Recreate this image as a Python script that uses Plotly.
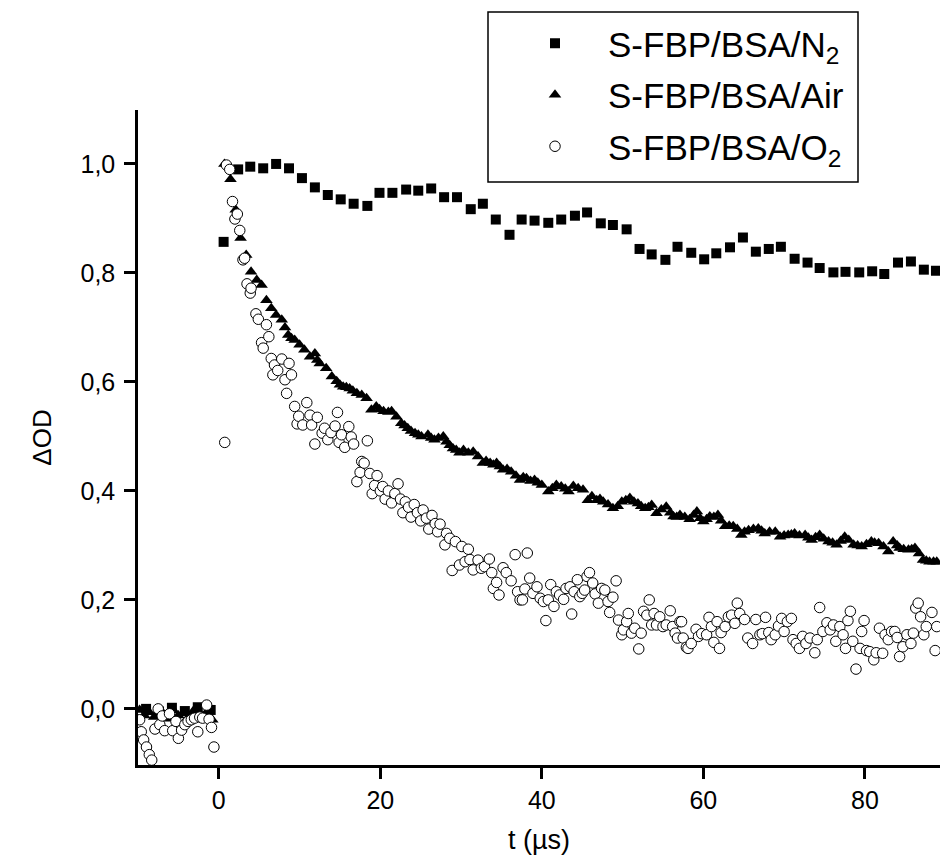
import plotly.graph_objects as go

# ---------------- data ----------------
n2_t = [-9.0, -7.4, -5.8, -4.2, -2.6, -1.0,
        0.6, 2.4, 3.9, 5.5, 7.1, 8.7, 10.3, 11.9, 13.5, 15.1,
        16.7, 18.4, 19.9, 21.5, 23.2, 24.7, 26.3, 27.9, 29.5, 31.2,
        32.7, 34.3, 36.0, 37.5, 39.1, 40.8, 42.4, 44.1, 45.6, 47.3,
        48.8, 50.5, 52.1, 53.6, 55.3, 56.8, 58.5, 60.1, 61.6, 63.3,
        64.9, 66.5, 68.1, 69.6, 71.3, 72.9, 74.4, 76.1, 77.6, 79.3,
        80.9, 82.4, 84.1, 85.7, 87.3, 88.8]
n2_y = [0.0, -0.005, 0.002, -0.004, 0.003, -0.002,
        0.857, 0.990, 0.995, 0.992, 1.0, 0.992, 0.974, 0.957, 0.943, 0.935,
        0.927, 0.923, 0.947, 0.947, 0.953, 0.951, 0.955, 0.939, 0.939, 0.917,
        0.927, 0.898, 0.870, 0.898, 0.896, 0.892, 0.898, 0.905, 0.911, 0.891,
        0.888, 0.880, 0.844, 0.834, 0.824, 0.848, 0.837, 0.825, 0.836, 0.847,
        0.865, 0.839, 0.844, 0.848, 0.826, 0.819, 0.809, 0.801, 0.802, 0.801,
        0.803, 0.798, 0.819, 0.821, 0.806, 0.804]

air_t = [-9.8, -9.2, -8.6, -8.0, -7.4, -6.8, -6.2, -5.6, -5.0, -4.4,
         -3.8, -3.2, -2.6, -2.0, -1.4, -0.8,
         0.7, 1.45, 2.1, 2.7, 3.4, 4.0, 4.7, 5.3, 5.9, 6.5,
         7.1, 7.8, 8.2, 8.6, 9.0, 9.4, 10.0, 10.6, 11.3, 11.9,
         12.2, 12.5, 13.3, 14.0, 14.6, 15.0, 15.4, 15.8, 16.2, 16.6,
         17.1, 17.7, 18.3, 18.9, 19.5, 19.9, 20.4, 21.0, 21.4, 22.0,
         22.6, 23.0, 23.4, 23.8, 24.3, 24.7, 25.1, 25.9, 26.3, 26.7,
         27.2, 27.8, 28.2, 28.6, 29.0, 29.4, 29.8, 30.3, 30.9, 31.5,
         32.1, 32.7, 33.1, 33.6, 34.0, 34.4, 34.8, 35.2, 35.7, 36.2,
         36.8, 37.3, 37.7, 38.1, 38.6, 39.1, 39.5, 40.0, 40.8, 41.3,
         41.8, 42.4, 42.9, 43.3, 43.9, 44.5, 45.1, 45.7, 46.2, 46.8,
         47.2, 47.6, 48.2, 48.8, 49.4, 49.9, 50.4, 50.9, 51.4, 51.9,
         52.3, 52.8, 53.2, 53.6, 54.2, 54.8, 55.4, 55.9, 56.3, 56.7,
         57.1, 57.7, 58.3, 58.8, 59.2, 59.6, 60.0, 60.4, 60.8, 61.3,
         61.8, 62.2, 62.7, 63.2, 63.7, 64.2, 64.7, 65.1, 65.6, 66.2,
         66.8, 67.2, 67.6, 68.2, 68.9, 69.5, 70.0, 70.5, 70.9, 71.3,
         71.9, 72.6, 73.0, 73.4, 73.9, 74.4, 74.9, 75.5, 76.0, 76.5,
         77.0, 77.5, 78.0, 78.6, 79.1, 79.6, 80.2, 80.8, 81.2, 81.7,
         82.3, 82.9, 83.5, 84.0, 84.3, 84.8, 85.4, 85.8, 86.2, 86.7,
         87.2, 87.6, 88.0, 88.5, 88.9]
air_y = [-0.002, -0.012, -0.006, -0.015, -0.004, -0.010, -0.018, -0.003, -0.012, -0.008,
         -0.016, -0.005, -0.011, -0.014, -0.004, -0.020,
         1.0, 0.972, 0.916, 0.864, 0.833, 0.802, 0.787, 0.778, 0.750, 0.735,
         0.723, 0.714, 0.700, 0.686, 0.680, 0.677, 0.668, 0.659, 0.646, 0.652,
         0.640, 0.634, 0.625, 0.610, 0.601, 0.595, 0.591, 0.590, 0.588, 0.584,
         0.579, 0.576, 0.570, 0.549, 0.555, 0.550, 0.546, 0.545, 0.546, 0.536,
         0.524, 0.520, 0.515, 0.510, 0.506, 0.503, 0.500, 0.503, 0.497, 0.494,
         0.497, 0.500, 0.490, 0.484, 0.478, 0.475, 0.470, 0.475, 0.470, 0.472,
         0.463, 0.451, 0.455, 0.451, 0.448, 0.451, 0.445, 0.439, 0.440, 0.435,
         0.428, 0.420, 0.425, 0.423, 0.418, 0.420, 0.415, 0.411, 0.399, 0.405,
         0.411, 0.408, 0.404, 0.399, 0.409, 0.405, 0.402, 0.383, 0.390, 0.383,
         0.385, 0.380, 0.375, 0.368, 0.372, 0.380, 0.383, 0.387, 0.380, 0.377,
         0.372, 0.368, 0.370, 0.374, 0.359, 0.366, 0.371, 0.360, 0.353, 0.352,
         0.356, 0.352, 0.348, 0.356, 0.362, 0.350, 0.344, 0.348, 0.353, 0.352,
         0.356, 0.345, 0.335, 0.336, 0.335, 0.330, 0.319, 0.325, 0.328, 0.330,
         0.331, 0.327, 0.322, 0.325, 0.325, 0.316, 0.318, 0.319, 0.320, 0.322,
         0.318, 0.319, 0.314, 0.310, 0.315, 0.319, 0.312, 0.307, 0.305, 0.301,
         0.308, 0.316, 0.310, 0.301, 0.300, 0.298, 0.302, 0.307, 0.305, 0.304,
         0.298, 0.289, 0.307, 0.300, 0.295, 0.293, 0.292, 0.293, 0.295, 0.285,
         0.273, 0.272, 0.270, 0.270, 0.270]

o2_t = [-9.8, -9.6, -9.3, -8.95, -8.6, -8.3, -7.9, -7.5, -7.3, -7.0,
        -6.7, -6.1, -5.7, -5.3, -5.0, -4.6, -4.2, -3.8, -3.4, -3.0,
        -2.6, -2.35, -2.0, -1.5, -1.2, -0.9, -0.6,
        0.74, 0.95, 1.36, 1.7, 2.0, 2.3, 2.6, 3.0, 3.2, 3.5,
        3.9, 4.0, 4.6, 4.9, 5.3, 5.5, 5.9, 6.2, 6.5, 6.7,
        6.9, 7.3, 7.8, 8.2, 8.4, 8.7, 9.0, 9.4, 9.7, 9.9,
        10.4, 10.9, 11.3, 11.5, 11.9, 12.2, 12.8, 13.1, 13.5, 13.9,
        14.4, 14.7, 14.9, 15.2, 15.6, 16.1, 16.4, 16.7, 17.1, 17.5,
        17.7, 18.0, 18.4, 18.7, 19.0, 19.3, 19.6, 20.0, 20.3, 20.6,
        21.0, 21.4, 21.8, 22.2, 22.5, 22.8, 23.1, 23.5, 23.8, 24.2,
        24.6, 25.0, 25.3, 25.7, 26.0, 26.4, 26.8, 27.1, 27.4, 28.0,
        28.2, 28.6, 28.9, 29.3, 29.8, 30.1, 30.5, 30.9, 31.1, 31.5,
        32.1, 32.5, 32.9, 33.5, 33.8, 34.0, 34.4, 34.7, 35.2, 35.6,
        36.2, 36.7, 37.0, 37.3, 37.6, 37.9, 38.2, 38.5, 38.9, 39.4,
        39.8, 40.2, 40.5, 40.8, 41.1, 41.5, 41.8, 42.2, 42.7, 43.0,
        43.5, 43.7, 44.0, 44.4, 44.7, 45.0, 45.3, 45.6, 45.9, 46.3,
        46.6, 47.0, 47.4, 47.8, 48.2, 48.4, 48.8, 49.2, 49.5, 49.9,
        50.1, 50.5, 50.7, 51.1, 51.5, 52.0, 52.3, 52.6, 53.0, 53.3,
        53.6, 53.9, 54.2, 54.6, 55.0, 55.4, 55.9, 56.2, 56.5, 56.8,
        57.1, 57.3, 57.5, 57.9, 58.1, 58.5, 59.1, 59.4, 59.8, 60.4,
        60.7, 61.0, 61.3, 61.7, 62.0, 62.2, 62.7, 63.1, 63.5, 63.9,
        64.2, 64.5, 65.1, 65.5, 66.1, 66.5, 67.0, 67.3, 67.7, 68.1,
        68.4, 68.9, 69.3, 69.7, 70.0, 70.4, 70.9, 71.1, 71.5, 71.9,
        72.3, 72.7, 73.2, 73.8, 74.1, 74.4, 74.8, 75.3, 75.7, 76.1,
        76.4, 76.9, 77.3, 77.6, 77.9, 78.2, 78.5, 78.9, 79.4, 79.6,
        79.9, 80.2, 80.6, 81.1, 81.4, 81.8, 82.2, 82.5, 82.9, 83.3,
        83.7, 84.0, 84.3, 84.7, 85.2, 85.7, 86.0, 86.3, 86.6, 86.9,
        87.3, 87.6, 88.3, 88.7, 88.9]
o2_y = [-0.020, -0.042, -0.057, -0.070, -0.084, -0.094, -0.037, 0.000, -0.029, -0.013,
        -0.040, -0.009, -0.040, -0.023, -0.054, -0.039, -0.029, -0.023, -0.020, -0.017,
        -0.042, -0.015, -0.017, 0.007, -0.019, -0.034, -0.070,
        0.489, 0.998, 0.990, 0.931, 0.899, 0.908, 0.878, 0.824, 0.827, 0.780,
        0.763, 0.772, 0.725, 0.715, 0.672, 0.662, 0.705, 0.683, 0.643, 0.613,
        0.631, 0.621, 0.642, 0.604, 0.579, 0.634, 0.613, 0.555, 0.523, 0.537,
        0.521, 0.562, 0.539, 0.521, 0.486, 0.535, 0.506, 0.515, 0.494, 0.507,
        0.519, 0.544, 0.489, 0.503, 0.480, 0.518, 0.499, 0.486, 0.417, 0.434,
        0.454, 0.451, 0.492, 0.432, 0.395, 0.410, 0.428, 0.400, 0.408, 0.385,
        0.400, 0.378, 0.395, 0.413, 0.385, 0.360, 0.380, 0.370, 0.352, 0.375,
        0.360, 0.345, 0.365, 0.350, 0.330, 0.355, 0.340, 0.325, 0.339, 0.301,
        0.322, 0.313, 0.254, 0.307, 0.264, 0.298, 0.270, 0.293, 0.274, 0.255,
        0.273, 0.258, 0.261, 0.275, 0.250, 0.221, 0.232, 0.209, 0.259, 0.250,
        0.235, 0.283, 0.215, 0.200, 0.200, 0.220, 0.286, 0.240, 0.212, 0.224,
        0.203, 0.197, 0.162, 0.200, 0.228, 0.188, 0.215, 0.209, 0.201, 0.221,
        0.224, 0.174, 0.215, 0.237, 0.206, 0.212, 0.218, 0.243, 0.250, 0.231,
        0.211, 0.194, 0.221, 0.218, 0.197, 0.177, 0.205, 0.235, 0.163, 0.136,
        0.145, 0.160, 0.175, 0.139, 0.148, 0.110, 0.139, 0.179, 0.172, 0.200,
        0.154, 0.175, 0.154, 0.169, 0.151, 0.154, 0.180, 0.151, 0.139, 0.130,
        0.160, 0.160, 0.130, 0.113, 0.111, 0.120, 0.146, 0.133, 0.138, 0.136,
        0.168, 0.151, 0.122, 0.160, 0.111, 0.140, 0.151, 0.169, 0.172, 0.157,
        0.194, 0.175, 0.164, 0.130, 0.120, 0.164, 0.136, 0.138, 0.168, 0.140,
        0.127, 0.136, 0.152, 0.166, 0.142, 0.160, 0.166, 0.127, 0.120, 0.111,
        0.133, 0.120, 0.130, 0.103, 0.127, 0.186, 0.142, 0.158, 0.145, 0.154,
        0.124, 0.151, 0.136, 0.111, 0.162, 0.179, 0.124, 0.073, 0.111, 0.142,
        0.162, 0.107, 0.105, 0.090, 0.103, 0.148, 0.102, 0.136, 0.127, 0.142,
        0.142, 0.131, 0.096, 0.114, 0.136, 0.120, 0.139, 0.185, 0.194, 0.169,
        0.136, 0.151, 0.177, 0.107, 0.151]

series_names = ["S-FBP/BSA/N<sub>2</sub>", "S-FBP/BSA/Air", "S-FBP/BSA/O<sub>2</sub>"]
x_ticks = [0, 20, 40, 60, 80]
y_ticks = [0.0, 0.2, 0.4, 0.6, 0.8, 1.0]

assert len(n2_t) == len(n2_y)
assert len(air_t) == len(air_y)
assert len(o2_t) == len(o2_y)

FONT = "Liberation Sans, Arial, sans-serif"

fig = go.Figure()
fig.add_trace(go.Scatter(
    x=n2_t, y=n2_y, mode="markers", name=series_names[0], legendgroup="n2",
    marker=dict(symbol="square", size=10, color="black", line=dict(width=0))))
fig.add_trace(go.Scatter(
    x=air_t, y=air_y, mode="markers", name=series_names[1], legendgroup="air",
    marker=dict(symbol="triangle-up", size=11, color="black", line=dict(width=0))))
fig.add_trace(go.Scatter(
    x=o2_t, y=o2_y, mode="markers", name=series_names[2], legendgroup="o2",
    marker=dict(symbol="circle", size=10.5, color="white", line=dict(width=1, color="black"))))

L, R, T, B = 138, 0, 110, 98
W, H = 940, 863
pw, ph = W - L - R, H - T - B

def px2paper_x(px):
    return (px - L) / pw

def px2paper_y(py):
    return (H - B - py) / ph

fig.update_layout(
    width=W, height=H,
    margin=dict(l=L, r=R, t=T, b=B, pad=0),
    paper_bgcolor="white", plot_bgcolor="white",
    separators=", ",
    font=dict(family=FONT, color="black", size=25),
    showlegend=True,
    legend=dict(
        x=px2paper_x(502), y=px2paper_y(14), xanchor="left", yanchor="top",
        bgcolor="rgba(0,0,0,0)", borderwidth=0,
        font=dict(family=FONT, size=35, color="black"),
        itemwidth=96, tracegroupgap=3,
    ),
    shapes=[dict(type="rect", xref="paper", yref="paper",
                 x0=px2paper_x(488), x1=px2paper_x(858),
                 y0=px2paper_y(182), y1=px2paper_y(12),
                 line=dict(color="black", width=1.5), fillcolor="rgba(0,0,0,0)")],
)

fig.update_xaxes(
    range=[-10, 89.3], tickvals=x_ticks,
    showline=True, linecolor="black", linewidth=2.5, mirror=False,
    ticks="outside", ticklen=11, tickwidth=2.5, tickcolor="black",
    showgrid=False, zeroline=False,
    tickfont=dict(size=25, family=FONT),
    title=dict(text="t (\u00b5s)", font=dict(size=27, family=FONT), standoff=18),
)
fig.update_yaxes(
    range=[-0.103, 1.099], tickvals=y_ticks, tickformat=".1f",
    showline=True, linecolor="black", linewidth=2.5, mirror=False,
    ticks="outside", ticklen=11, tickwidth=2.5, tickcolor="black",
    ticklabelstandoff=4,
    showgrid=False, zeroline=False,
    tickfont=dict(size=25, family=FONT),
    title=dict(text="\u0394OD", font=dict(size=26, family=FONT), standoff=22),
)

fig.write_html("out.html")
